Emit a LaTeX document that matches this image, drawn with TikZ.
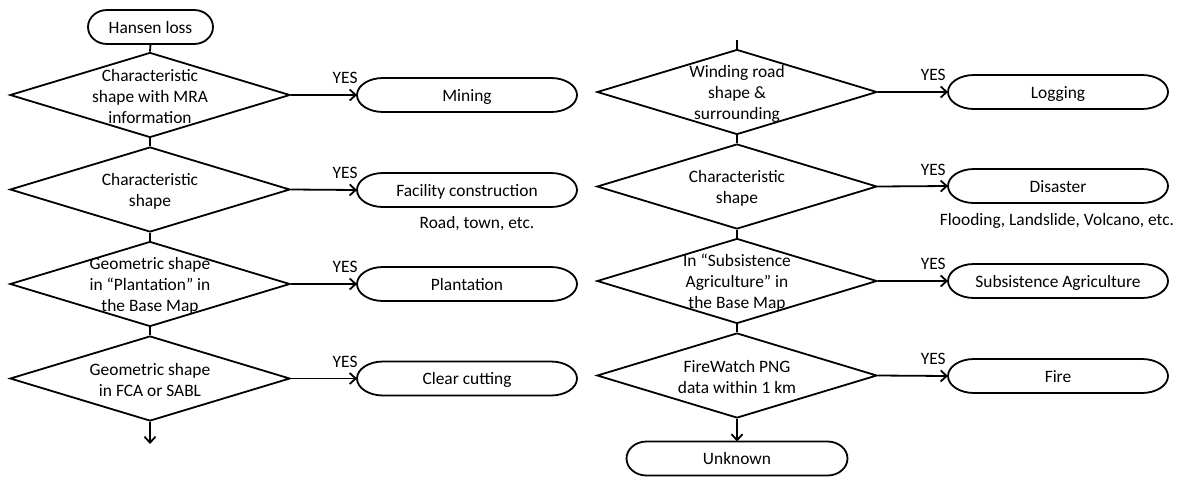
\documentclass[tikz,border=0pt]{standalone}
\usepackage{fontspec}
\setmainfont{Carlito}
\usetikzlibrary{shapes.geometric,arrows.meta}

\tikzset{
  line/.style={draw=black, line width=1.8pt},
  txt/.style={font=\fontsize{17.4}{21}\selectfont},
  dec/.style={diamond, line, minimum width=280pt, minimum height=85pt, inner sep=0pt},
  dectext/.style={txt, align=center, inner sep=0pt, yshift=-2pt},
  term/.style={rectangle, minimum height=34pt, inner sep=0pt, outer sep=0pt,
               text height=13.5pt, text depth=1pt, txt},
  arr/.style={line, -{Straight Barb[length=6pt,width=11pt]}},
  yes/.style={txt, above=9pt, inner sep=1pt},
  note/.style={txt, inner sep=0pt}
}

% decision diamond with its text set over it
\newcommand\decision[3]{%
  \node[dec] (#1) at (#2) {};
  \node[dectext] at (#1.center) {#3};
}

% terminal: box with elliptical ends
\newcommand\terminal[5]{%
  \node[term, minimum width=#3] (#1) at (#2) {#5};
  \draw[line] ([xshift=#4]#1.north west) -- ([xshift=-#4]#1.north east)
    arc[start angle=90, end angle=-90, x radius=#4, y radius=17pt]
    -- ([xshift=#4]#1.south west)
    arc[start angle=270, end angle=90, x radius=#4, y radius=17pt] -- cycle;
}

\begin{document}
\begin{tikzpicture}[x=1pt, y=-1pt]
\useasboundingbox (0,0) rectangle (1178,480);

% left column
\terminal{hansen}{150.5,27}{125pt}{19pt}{Hansen loss}
\decision{ld1}{150,95}{Characteristic\\shape with MRA\\information}
\decision{ld2}{150,189.5}{Characteristic\\shape}
\decision{ld3}{150,284}{Geometric shape\\in “Plantation” in\\the Base Map}
\decision{ld4}{150,378.5}{Geometric shape\\in FCA or SABL}
\coordinate (lend) at (150,444);

\terminal{mining}{467,95}{220pt}{26pt}{Mining}
\terminal{facility}{467,190}{220pt}{26pt}{Facility construction}
\terminal{plantation}{467,284}{220pt}{26pt}{Plantation}
\terminal{clearcut}{467,378.5}{220pt}{26pt}{Clear cutting}
\node[note] (roadnote) at (477,224) {Road, town, etc.};

\draw[line] (hansen.south) -- (ld1.north);
\draw[line] (ld1.south) -- (ld2.north);
\draw[line] (ld2.south) -- (ld3.north);
\draw[line] (ld3.south) -- (ld4.north);
\draw[arr] (ld4.south) -- (lend);

\draw[arr] (ld1.east) -- node[yes, pos=0.82]{YES} (mining.west);
\draw[arr] (ld2.east) -- node[yes, pos=0.82]{YES} (facility.west);
\draw[arr] (ld3.east) -- node[yes, pos=0.82]{YES} (plantation.west);
\draw[arr] (ld4.east) -- node[yes, pos=0.82]{YES} (clearcut.west);

% right column
\coordinate (rstart) at (737,40);
\decision{rd1}{737,92}{Winding road\\shape \&\\surrounding}
\decision{rd2}{737,186.5}{Characteristic\\shape}
\decision{rd3}{737,281}{In “Subsistence\\Agriculture” in\\the Base Map}
\decision{rd4}{737,375.5}{FireWatch PNG\\data within 1 km}

\terminal{logging}{1058,92}{220pt}{26pt}{Logging}
\terminal{disaster}{1058,186}{220pt}{26pt}{Disaster}
\terminal{subsist}{1058,281}{220pt}{26pt}{Subsistence Agriculture}
\terminal{fire}{1058,376}{220pt}{26pt}{Fire}
\terminal{unknown}{737,458.5}{221pt}{20pt}{Unknown}
\node[note] (disnote) at (1057,221) {Flooding, Landslide, Volcano, etc.};

\draw[line] (rstart) -- (rd1.north);
\draw[line] (rd1.south) -- (rd2.north);
\draw[line] (rd2.south) -- (rd3.north);
\draw[line] (rd3.south) -- (rd4.north);
\draw[arr] (rd4.south) -- (unknown.north);

\draw[arr] (rd1.east) -- node[yes, pos=0.79]{YES} (logging.west);
\draw[arr] (rd2.east) -- node[yes, pos=0.79]{YES} (disaster.west);
\draw[arr] (rd3.east) -- node[yes, pos=0.79]{YES} (subsist.west);
\draw[arr] (rd4.east) -- node[yes, pos=0.79]{YES} (fire.west);
\end{tikzpicture}
\end{document}
